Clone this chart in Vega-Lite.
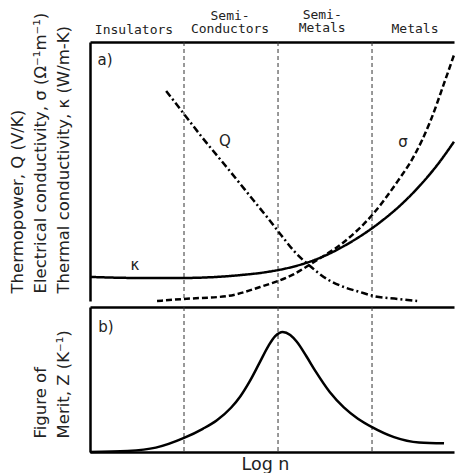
{
  "$schema": "https://vega.github.io/schema/vega-lite/v6.json",
  "background": "white",
  "padding": {"left": 9, "top": 8, "right": 0, "bottom": 0},
  "spacing": 0,
  "config": {
    "view": {"stroke": null},
    "font": "DejaVu Sans",
    "axis": {
      "domainColor": "black",
      "domainWidth": 2.5,
      "labels": false,
      "ticks": false,
      "grid": false,
      "titleFont": "DejaVu Sans",
      "titleFontWeight": "normal",
      "titleColor": "#222",
      "titleFontSize": 16.5,
      "titleLineHeight": 23
    }
  },
  "datasets": {
    "regions": [{"x": 1}, {"x": 2}, {"x": 3}],
    "curves": [
      {"series": "Q", "x": 0.81, "y": 81.1},
      {"series": "Q", "x": 1.0, "y": 72.2},
      {"series": "Q", "x": 1.19, "y": 63.3},
      {"series": "Q", "x": 1.46, "y": 51.4},
      {"series": "Q", "x": 1.745, "y": 38.6},
      {"series": "Q", "x": 1.883, "y": 32.4},
      {"series": "Q", "x": 2.032, "y": 25.5},
      {"series": "Q", "x": 2.17, "y": 19.3},
      {"series": "Q", "x": 2.34, "y": 13.5},
      {"series": "Q", "x": 2.52, "y": 8.5},
      {"series": "Q", "x": 2.7, "y": 5.4},
      {"series": "Q", "x": 2.87, "y": 3.5},
      {"series": "Q", "x": 3.02, "y": 1.9},
      {"series": "Q", "x": 3.27, "y": 0.8},
      {"series": "Q", "x": 3.48, "y": 0},
      {"series": "σ", "x": 0.713, "y": 0},
      {"series": "σ", "x": 1.0, "y": 0.8},
      {"series": "σ", "x": 1.457, "y": 1.9},
      {"series": "σ", "x": 1.809, "y": 5.4},
      {"series": "σ", "x": 2.17, "y": 10.4},
      {"series": "σ", "x": 2.383, "y": 15.1},
      {"series": "σ", "x": 2.702, "y": 22.8},
      {"series": "σ", "x": 3.011, "y": 33.6},
      {"series": "σ", "x": 3.266, "y": 45.9},
      {"series": "σ", "x": 3.447, "y": 56.0},
      {"series": "σ", "x": 3.617, "y": 69.1},
      {"series": "σ", "x": 3.766, "y": 84.0},
      {"series": "σ", "x": 3.872, "y": 95.0},
      {"series": "κ", "x": 0, "y": 9.3},
      {"series": "κ", "x": 0.5, "y": 8.9},
      {"series": "κ", "x": 1.0, "y": 8.9},
      {"series": "κ", "x": 1.3, "y": 9.2},
      {"series": "κ", "x": 1.6, "y": 10.0},
      {"series": "κ", "x": 1.9, "y": 11.3},
      {"series": "κ", "x": 2.1, "y": 12.7},
      {"series": "κ", "x": 2.34, "y": 15.2},
      {"series": "κ", "x": 2.5, "y": 17.5},
      {"series": "κ", "x": 2.7, "y": 21.2},
      {"series": "κ", "x": 2.9, "y": 25.6},
      {"series": "κ", "x": 3.1, "y": 30.8},
      {"series": "κ", "x": 3.3, "y": 36.9},
      {"series": "κ", "x": 3.5, "y": 44.2},
      {"series": "κ", "x": 3.7, "y": 52.8},
      {"series": "κ", "x": 3.872, "y": 61.5}
    ],
    "merit": [
      {"x": 0, "y": 0},
      {"x": 0.4, "y": 0.7},
      {"x": 0.7, "y": 3.0},
      {"x": 1.0, "y": 9.7},
      {"x": 1.2, "y": 16.0},
      {"x": 1.35, "y": 21.9},
      {"x": 1.5, "y": 30.5},
      {"x": 1.6, "y": 38.5},
      {"x": 1.7, "y": 48.9},
      {"x": 1.8, "y": 61.1},
      {"x": 1.9, "y": 73.4},
      {"x": 1.97, "y": 79.9},
      {"x": 2.05, "y": 82.8},
      {"x": 2.13, "y": 80.7},
      {"x": 2.2, "y": 76.0},
      {"x": 2.3, "y": 66.2},
      {"x": 2.4, "y": 55.6},
      {"x": 2.55, "y": 41.4},
      {"x": 2.7, "y": 30.8},
      {"x": 2.85, "y": 23.0},
      {"x": 3.0, "y": 17.2},
      {"x": 3.234, "y": 10.3},
      {"x": 3.5, "y": 6.6},
      {"x": 3.766, "y": 6.0}
    ],
    "labels": [
      {"x": 1.436, "y": 61.8, "text": "Q"},
      {"x": 3.33, "y": 61.4, "text": "σ"},
      {"x": 0.479, "y": 13.9, "text": "κ"},
      {"x": 0.16, "y": 93, "text": "a)"}
    ],
    "headers": [
      {"x": 0.468, "y": 103.1, "text": "Insulators"},
      {"x": 1.49, "y": 108.6, "text": "Semi-\nConductors"},
      {"x": 2.47, "y": 108.9, "text": "Semi-\nMetals"},
      {"x": 3.457, "y": 103.5, "text": "Metals"}
    ],
    "panelb": [
      {"x": 0.17, "y": 86.2, "text": "b)"}
    ]
  },
  "vconcat": [
    {
      "width": 364,
      "height": 259,
      "layer": [
        {
          "data": {"name": "regions"},
          "mark": {"type": "rule", "strokeDash": [4, 3], "color": "#333", "strokeWidth": 1},
          "encoding": {
            "x": {
              "field": "x",
              "type": "quantitative",
              "scale": {"domain": [0, 3.872], "nice": false, "zero": false},
              "axis": {"orient": "top", "title": null}
            }
          }
        },
        {
          "data": {"name": "curves"},
          "mark": {"type": "line", "interpolate": "monotone", "strokeWidth": 2.5, "color": "black"},
          "encoding": {
            "x": {"field": "x", "type": "quantitative"},
            "y": {
              "field": "y",
              "type": "quantitative",
              "scale": {"domain": [0, 100], "nice": false},
              "axis": {
                "title": ["Thermopower, Q (V/K)", "Electrical conductivity, σ (Ω⁻¹m⁻¹)", "Thermal conductivity, κ (W/m-K)"],
                "titleAlign": "left",
                "titleY": 251,
                "titlePadding": 19
              }
            },
            "strokeDash": {
              "field": "series",
              "type": "nominal",
              "scale": {"domain": ["Q", "σ", "κ"], "range": [[7, 3, 2, 3], [6, 3], [1, 0]]},
              "legend": null
            }
          }
        },
        {
          "data": {"name": "labels"},
          "mark": {"type": "text", "fontSize": 15, "color": "#222"},
          "encoding": {
            "x": {"field": "x", "type": "quantitative"},
            "y": {"field": "y", "type": "quantitative"},
            "text": {"field": "text"}
          }
        },
        {
          "data": {"name": "headers"},
          "mark": {"type": "text", "font": "DejaVu Sans Mono", "fontSize": 13, "lineBreak": "\n", "lineHeight": 13.5, "baseline": "alphabetic", "color": "#222"},
          "encoding": {
            "x": {"field": "x", "type": "quantitative"},
            "y": {"field": "y", "type": "quantitative"},
            "text": {"field": "text"}
          }
        }
      ]
    },
    {
      "width": 364,
      "height": 145,
      "resolve": {"axis": {"x": "independent"}},
      "layer": [
        {
          "data": {"name": "regions"},
          "mark": {"type": "rule", "strokeDash": [4, 3], "color": "#333", "strokeWidth": 1},
          "encoding": {
            "x": {
              "field": "x",
              "type": "quantitative",
              "scale": {"domain": [0, 3.872], "nice": false, "zero": false},
              "axis": {"orient": "top", "title": null}
            }
          }
        },
        {
          "data": {"name": "merit"},
          "mark": {"type": "line", "interpolate": "monotone", "strokeWidth": 2.5, "color": "black"},
          "encoding": {
            "x": {
              "field": "x",
              "type": "quantitative",
              "axis": {"orient": "bottom", "title": "Log n", "titleFontSize": 17.5, "titlePadding": 3, "titleX": 175}
            },
            "y": {
              "field": "y",
              "type": "quantitative",
              "scale": {"domain": [0, 100], "nice": false},
              "axis": {
                "title": ["Figure of", "Merit, Z (K⁻¹)"],
                "titleAlign": "left",
                "titleY": 131,
                "titlePadding": 19
              }
            }
          }
        },
        {
          "data": {"name": "panelb"},
          "mark": {"type": "text", "fontSize": 15, "color": "#222"},
          "encoding": {
            "x": {"field": "x", "type": "quantitative", "axis": null},
            "y": {"field": "y", "type": "quantitative"},
            "text": {"field": "text"}
          }
        }
      ]
    }
  ]
}
